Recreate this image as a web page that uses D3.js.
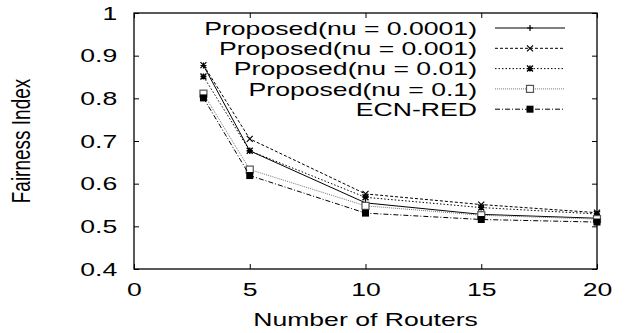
<!DOCTYPE html>
<html>
<head>
<meta charset="utf-8">
<script src="https://cdn.jsdelivr.net/npm/d3@7"></script>
<style>
  body { margin: 0; background: #fff; }
  text { font-family: "Liberation Sans", Arial, sans-serif; fill: #000; }
</style>
</head>
<body>
<svg id="chart" width="629" height="333"></svg>
<script>
// data
var routers = [3, 5, 10, 15, 20];
var nu0001 = [0.877, 0.677, 0.555, 0.528, 0.519];
var nu001 = [0.878, 0.705, 0.576, 0.551, 0.532];
var nu01 = [0.851, 0.677, 0.568, 0.544, 0.529];
var nu1 = [0.811, 0.633, 0.548, 0.526, 0.517];
var ecnRed = [0.801, 0.619, 0.531, 0.516, 0.510];
var seriesNames = ["Proposed(nu = 0.0001)", "Proposed(nu = 0.001)", "Proposed(nu = 0.01)", "Proposed(nu = 0.1)", "ECN-RED"];
var xTicks = [0, 5, 10, 15, 20];
var yTicks = [0.4, 0.5, 0.6, 0.7, 0.8, 0.9, 1];

var series = [
  { name: seriesNames[0], values: nu0001, dash: null, color: "#000", marker: "plus" },
  { name: seriesNames[1], values: nu001, dash: "3,2", color: "#000", marker: "cross" },
  { name: seriesNames[2], values: nu01, dash: "1.5,2", color: "#000", marker: "star" },
  { name: seriesNames[3], values: nu1, dash: "1,1", color: "#777", marker: "square" },
  { name: seriesNames[4], values: ecnRed, dash: "5,2,1,2", color: "#000", marker: "fsquare" }
];

var stretch = 1.4;
var margin = { left: 134, right: 32, top: 13, bottom: 64 };
var W = 629, H = 333;

var svg = d3.select("#chart");

var x = d3.scaleLinear().domain([0, 20]).range([margin.left, W - margin.right]);
var y = d3.scaleLinear().domain([0.4, 1]).range([H - margin.bottom, margin.top]);

function styleAxis(g) {
  g.select(".domain").remove();
  g.selectAll(".tick line").attr("stroke", "#000").attr("stroke-width", 1);
  g.selectAll("text").attr("font-size", 19).attr("fill", "#000");
}

// bottom axis with labels
svg.append("g")
  .attr("transform", "translate(0," + y.range()[0] + ")")
  .call(d3.axisBottom(x).tickValues(xTicks).tickSizeInner(-5).tickSizeOuter(0).tickPadding(14))
  .call(styleAxis)
  .call(function (g) {
    g.selectAll("text").attr("transform", "scale(" + stretch + ",1)");
  });

// left axis with labels
svg.append("g")
  .attr("transform", "translate(" + margin.left + ",0)")
  .call(d3.axisLeft(y).tickValues(yTicks).tickFormat(d3.format("")).tickSizeInner(-5).tickSizeOuter(0).tickPadding(12))
  .call(styleAxis)
  .call(function (g) {
    g.selectAll("text").attr("transform", "scale(" + stretch + ",1)");
  });

// mirrored ticks
svg.append("g")
  .attr("transform", "translate(0," + margin.top + ")")
  .call(d3.axisTop(x).tickValues(xTicks).tickSizeInner(-5).tickSizeOuter(0).tickFormat(""))
  .call(styleAxis);
svg.append("g")
  .attr("transform", "translate(" + (W - margin.right) + ",0)")
  .call(d3.axisRight(y).tickValues(yTicks).tickSizeInner(-5).tickSizeOuter(0).tickFormat(""))
  .call(styleAxis);

// frame
svg.append("rect")
  .attr("x", x.range()[0]).attr("y", y.range()[1])
  .attr("width", x.range()[1] - x.range()[0])
  .attr("height", y.range()[0] - y.range()[1])
  .attr("fill", "none").attr("stroke", "#000").attr("stroke-width", 1.3);

// axis titles
svg.append("text")
  .attr("transform", "translate(" + ((x.range()[0] + x.range()[1]) / 2) + ",326) scale(" + stretch + ",1)")
  .attr("text-anchor", "middle")
  .attr("font-size", 19)
  .text("Number of Routers");

svg.append("text")
  .attr("transform", "translate(30,141) scale(" + stretch + ",1) rotate(-90)")
  .attr("text-anchor", "middle")
  .attr("font-size", 19)
  .text("Fairness Index");

function drawMarker(g, type, color) {
  if (type === "plus") {
    g.append("path").attr("d", "M-3,0H3M0,-3V3").attr("stroke", color).attr("stroke-width", 1.2);
  } else if (type === "cross") {
    g.append("path").attr("d", "M-3,-3L3,3M-3,3L3,-3").attr("stroke", color).attr("stroke-width", 1.2);
  } else if (type === "star") {
    g.append("path").attr("d", "M-3,0H3M0,-3V3M-3,-3L3,3M-3,3L3,-3").attr("stroke", color).attr("stroke-width", 1.4);
  } else if (type === "square") {
    g.append("rect").attr("x", -3.5).attr("y", -3.5).attr("width", 7).attr("height", 7)
      .attr("fill", "#fff").attr("stroke", "#555").attr("stroke-width", 1.2);
  } else if (type === "fsquare") {
    g.append("rect").attr("x", -3.5).attr("y", -3.5).attr("width", 7).attr("height", 7)
      .attr("fill", color);
  }
}

var line = d3.line()
  .x(function (d, i) { return x(routers[i]); })
  .y(function (d) { return y(d); });

var plot = svg.append("g");

series.forEach(function (s) {
  plot.append("path")
    .datum(s.values)
    .attr("d", line)
    .attr("fill", "none")
    .attr("stroke", s.color)
    .attr("stroke-width", 1)
    .attr("stroke-dasharray", s.dash);
  s.values.forEach(function (v, i) {
    var m = plot.append("g").attr("transform", "translate(" + x(routers[i]) + "," + y(v) + ")");
    drawMarker(m, s.marker, "#000");
  });
});

// legend
var legend = svg.append("g");
series.forEach(function (s, i) {
  var ly = 28 + i * 20.3;
  legend.append("text")
    .attr("transform", "translate(477," + ly + ") scale(" + stretch + ",1)")
    .attr("text-anchor", "end")
    .attr("dy", "0.35em")
    .attr("font-size", 19)
    .text(s.name);
  legend.append("line")
    .attr("x1", 495).attr("x2", 565)
    .attr("y1", ly).attr("y2", ly)
    .attr("stroke", s.color)
    .attr("stroke-width", 1)
    .attr("stroke-dasharray", s.dash);
  var m = legend.append("g").attr("transform", "translate(530," + ly + ")");
  drawMarker(m, s.marker, "#000");
});
</script>
</body>
</html>
